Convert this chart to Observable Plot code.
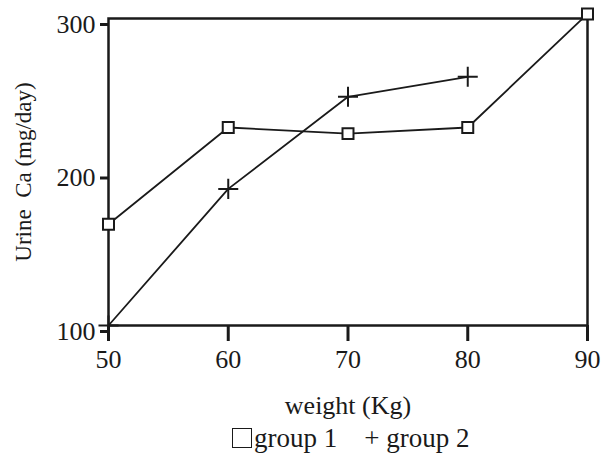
<!DOCTYPE html>
<html><head><meta charset="utf-8">
<script src="https://cdn.jsdelivr.net/npm/d3@7"></script>
<script src="https://cdn.jsdelivr.net/npm/@observablehq/plot@0.6"></script>
<style>
body{margin:0;background:#fff;font-family:"Liberation Serif",serif;color:#1a1a1a;}
#wrap{position:relative;width:606px;height:454px;}
#legend{position:absolute;left:232px;top:423px;font-size:27px;line-height:30px;white-space:nowrap;}
#legend .sq{display:inline-block;width:18px;height:18px;border:1.5px solid #1a1a1a;vertical-align:-1px;margin-right:2px;}
</style></head><body>
<div id="wrap"><div id="chart"></div>
<div id="legend"><span class="sq"></span>group 1&nbsp;&nbsp;&nbsp;&nbsp;+ group 2</div></div>
<script>
const weights1 = [50, 60, 70, 80, 90];
const group1 = [166, 229, 225, 229, 303];
const weights2 = [50, 60, 70, 80];
const group2 = [100, 189, 249, 262];
const xTicks = [50, 60, 70, 80, 90];
const yTicks = [100, 200, 300];
const xLabel = "weight (Kg)";
const yLabel = "Urine  Ca (mg/day)";

const d1 = weights1.map((w, i) => ({w, v: group1[i]}));
const d2 = weights2.map((w, i) => ({w, v: group2[i]}));
const ink = "#1a1a1a";

const chart = Plot.plot({
  width: 606, height: 422,
  marginLeft: 108, marginRight: 19, marginTop: 18, marginBottom: 97,
  style: {fontFamily: "Liberation Serif, serif", fontSize: "26px", color: ink, background: "#fff"},
  x: {domain: [50, 90]},
  y: {domain: [100, 300]},
  marks: [
    Plot.frame({stroke: ink, strokeWidth: 2.5}),
    Plot.axisX({ticks: xTicks, tickSize: 16, tickPadding: 8, strokeWidth: 3, fontSize: 26, stroke: ink,
      label: xLabel, labelAnchor: "center", labelArrow: "none", labelOffset: 88}),
    Plot.axisY({ticks: yTicks, tickSize: 8, tickPadding: 5, strokeWidth: 3, fontSize: 26, dy: 6, stroke: ink,
      label: null}),
    Plot.axisY({ticks: [], tickSize: 0, label: yLabel, labelAnchor: "center", labelArrow: "none", labelOffset: 94, fontSize: 23}),
    Plot.line(d1, {x: "w", y: "v", stroke: ink, strokeWidth: 1.8}),
    Plot.line(d2, {x: "w", y: "v", stroke: ink, strokeWidth: 1.8}),
    Plot.dot(d1, {x: "w", y: "v", symbol: "square2", r: 7, stroke: ink, fill: "white", strokeWidth: 2}),
    Plot.dot(d2, {x: "w", y: "v", symbol: "plus", r: 6.5, stroke: ink, strokeWidth: 2})
  ]
});
document.getElementById("chart").append(chart);
</script>
</body></html>
